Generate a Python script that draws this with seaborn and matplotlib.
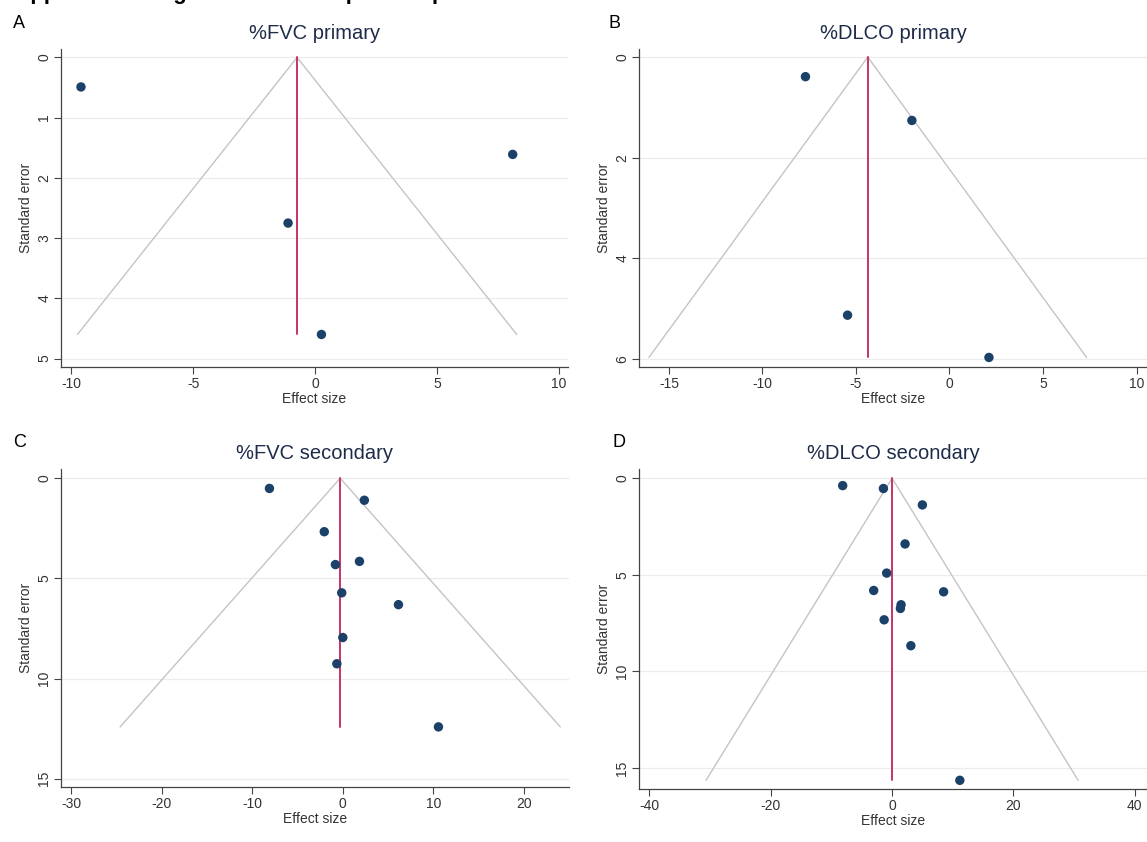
import numpy as np
import pandas as pd
import matplotlib
matplotlib.use("Agg")
import matplotlib.pyplot as plt
import seaborn as sns

# values
fvc_pri_es = [-9.61, 8.11, -1.11, 0.26]
fvc_pri_se = [0.49, 1.61, 2.75, 4.60]
fvc_pri_pooled = -0.74

dlco_pri_es = [-7.70, -2.01, -5.45, 2.11]
dlco_pri_se = [0.39, 1.26, 5.13, 5.97]
dlco_pri_pooled = -4.37

fvc_sec_es = [-8.11, 2.38, -2.05, -0.82, 1.84, -0.12, 6.15, 0.0, -0.66, 10.57]
fvc_sec_se = [0.51, 1.10, 2.67, 4.31, 4.15, 5.72, 6.31, 7.95, 9.26, 12.41]
fvc_sec_pooled = -0.29

dlco_sec_es = [-8.14, -1.43, 4.99, 2.14, -0.89, -3.03, 8.49, 1.48, 1.37, -1.31, 3.09, 11.16]
dlco_sec_se = [0.38, 0.53, 1.38, 3.40, 4.91, 5.81, 5.88, 6.55, 6.74, 7.33, 8.67, 15.64]
dlco_sec_pooled = 0.0

titles = ["%FVC primary", "%DLCO primary", "%FVC secondary", "%DLCO secondary"]
letters = ["A", "B", "C", "D"]

W, H = 1147, 842
sns.set_style("white")
plt.rcParams['font.family'] = ['Liberation Sans', 'DejaVu Sans']

fig = plt.figure(figsize=(W / 100, H / 100), dpi=100)

# panel boxes in pixels: left, top, right, bottom
boxes = [(61, 49, 568, 367), (639, 49, 1147, 367),
         (61, 469, 569, 787), (639, 469, 1147, 789)]
xlims = [(-10.43, 10.38), (-16.6, 10.56), (-31.15, 25.0), (-41.7, 42.0)]
ylims = [(5.14, -0.14), (6.16, -0.16), (15.41, -0.46), (16.09, -0.48)]
xticks = [[-10, -5, 0, 5, 10], [-15, -10, -5, 0, 5, 10],
          [-30, -20, -10, 0, 10, 20], [-40, -20, 0, 20, 40]]
yticks = [[0, 1, 2, 3, 4, 5], [0, 2, 4, 6], [0, 5, 10, 15], [0, 5, 10, 15]]

panels = [(fvc_pri_es, fvc_pri_se, fvc_pri_pooled),
          (dlco_pri_es, dlco_pri_se, dlco_pri_pooled),
          (fvc_sec_es, fvc_sec_se, fvc_sec_pooled),
          (dlco_sec_es, dlco_sec_se, dlco_sec_pooled)]

letter_pos = [(13, 28), (608, 28), (13, 447), (612, 447)]

for i, (es, se, pooled) in enumerate(panels):
    l, t, r, b = boxes[i]
    ax = fig.add_axes([l / W, 1 - b / H, (r - l) / W, (b - t) / H])
    ax.set_facecolor("white")
    df = pd.DataFrame({"es": es, "se": se})
    semax = df["se"].max()

    for yv in yticks[i]:
        ax.axhline(yv, color="#ececec", lw=0.9, zorder=0)

    # pseudo 95% limits
    ax.plot([pooled - 1.96 * semax, pooled, pooled + 1.96 * semax],
            [semax, 0, semax], color="#c4c4c4", lw=1.0, zorder=1)
    ax.plot([pooled, pooled], [0, semax], color="#c6336a", lw=1.4, zorder=2)

    sns.scatterplot(data=df, x="es", y="se", ax=ax, color="#1b4169",
                    s=46, edgecolor="none", zorder=3)

    ax.set_xlim(*xlims[i])
    ax.set_ylim(*ylims[i])
    ax.set_xticks(xticks[i])
    ax.set_yticks(yticks[i])
    ax.set_xticklabels([str(v) for v in xticks[i]])
    ax.set_yticklabels([str(v) for v in yticks[i]], rotation=90, va="center")
    ax.tick_params(axis="both", direction="out", length=5, width=0.8,
                   color="#444444", labelsize=10, labelcolor="#333333", pad=2,
                   left=True, bottom=True)
    for s in ["top", "right"]:
        ax.spines[s].set_visible(False)
    for s in ["left", "bottom"]:
        ax.spines[s].set_color("#444444")
        ax.spines[s].set_linewidth(0.9)
    ax.set_xlabel("Effect size", fontsize=10, color="#333333", labelpad=1)
    ax.set_ylabel("Standard error", fontsize=10, color="#333333", labelpad=3)
    ax.set_title(titles[i], fontsize=14.5, color="#1e2c4a", pad=7)

    lx, ly = letter_pos[i]
    fig.text(lx / W, 1 - ly / H, letters[i], fontsize=13, color="black",
             va="baseline", ha="left")

# page caption, cut off by the crop of the original
fig.text(2 / W, 1 + 1.0 / H, "Supplemental Figure S1. Funnel plots of publication bias",
         fontsize=16, fontweight="bold", va="baseline", ha="left", color="black")

fig.savefig("out.png", dpi=100, facecolor="white")
